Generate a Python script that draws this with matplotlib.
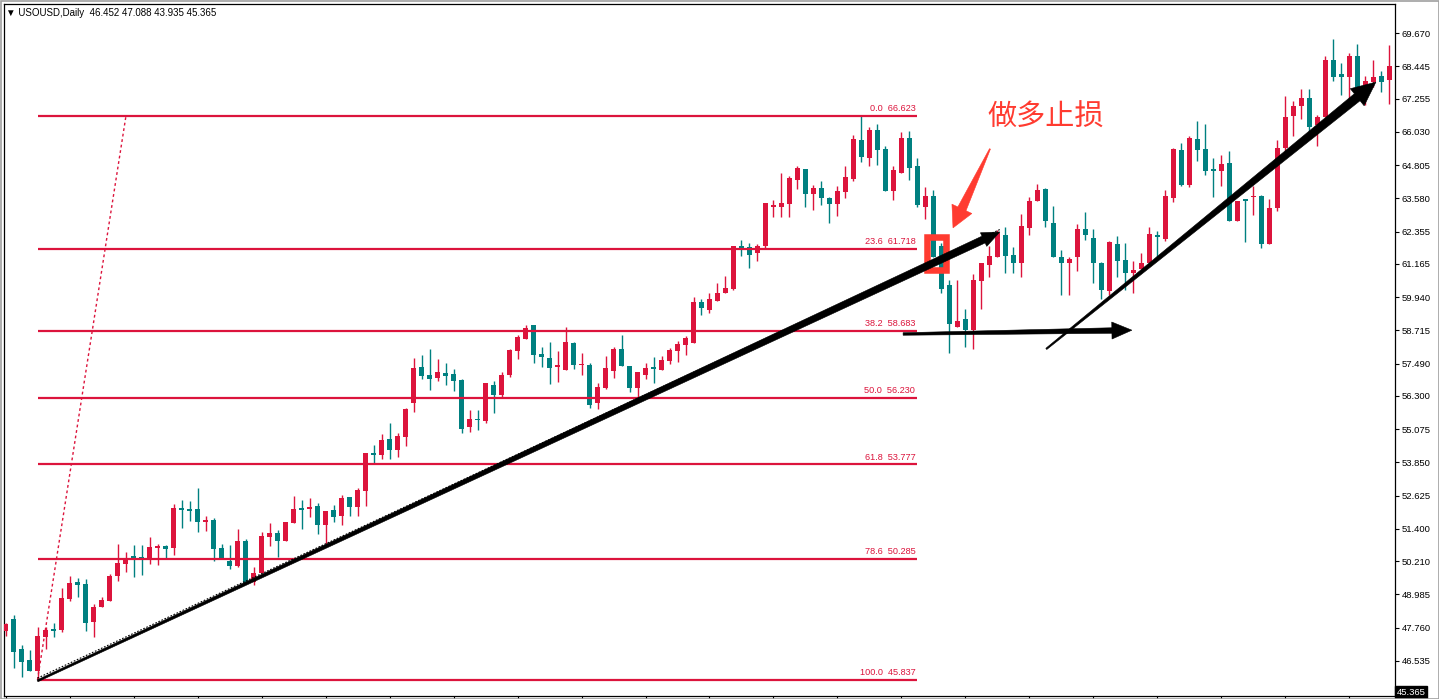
import numpy as np
import matplotlib
matplotlib.use("Agg")
import matplotlib.pyplot as plt
from matplotlib.patches import Polygon, Rectangle
import matplotlib.transforms as mtransforms

# daily candles (oldest -> newest)
opens = [47.65, 48.07, 46.96, 46.57, 46.17, 47.43, 47.71, 47.67, 48.80, 49.44,
         49.37, 47.98, 48.53, 48.75, 49.67, 50.11, 50.40, 50.35, 50.28, 50.69,
         50.77, 50.69, 52.17, 52.12, 52.12, 51.65, 51.73, 50.69, 50.23, 50.03,
         50.95, 49.44, 49.76, 51.11, 51.26, 50.96, 51.63, 52.17, 52.14, 52.24,
         51.55, 52.09, 51.89, 52.57, 52.19, 52.81, 54.21, 54.13, 54.72, 54.31,
         54.80, 56.05, 57.38, 57.07, 56.97, 57.15, 57.11, 56.88, 55.16, 55.46,
         55.39, 56.69, 56.34, 57.08, 57.96, 58.41, 58.92, 57.84, 57.70, 57.38,
         57.25, 58.26, 57.44, 57.44, 56.03, 56.59, 57.23, 58.02, 57.40, 56.60,
         57.08, 57.36, 57.25, 57.60, 57.96, 58.16, 58.26, 59.76, 59.46, 59.78,
         60.10, 60.25, 61.82, 61.77, 61.58, 61.82, 63.27, 63.27, 63.37, 64.25,
         64.65, 63.74, 63.96, 63.59, 63.37, 63.81, 64.28, 65.73, 65.06, 66.10,
         65.41, 63.86, 64.52, 65.80, 64.77, 63.27, 63.66, 61.82, 60.37, 58.85,
         59.12, 58.73, 60.54, 61.13, 61.41, 62.22, 61.48, 61.21, 62.49, 63.47,
         63.93, 62.66, 61.41, 61.18, 61.41, 62.45, 62.12, 61.21, 60.17, 61.90,
         61.30, 60.82, 60.96, 61.18, 62.22, 62.09, 63.59, 65.36, 64.06, 65.76,
         65.41, 64.67, 64.57, 64.89, 62.75, 63.54, 63.62, 63.66, 61.90, 63.22,
         65.43, 66.61, 66.98, 67.28, 66.27, 66.59, 68.68, 68.16, 68.06, 68.82,
         67.69, 67.86, 68.09, 67.94]
highs = [47.94, 48.23, 47.12, 46.94, 47.80, 47.80, 47.94, 49.22, 49.66, 49.58,
         49.56, 48.63, 48.90, 49.74, 50.84, 50.55, 50.79, 50.79, 51.09, 50.84,
         50.82, 52.32, 52.46, 52.42, 52.91, 51.87, 51.80, 50.84, 50.79, 51.38,
         51.03, 49.98, 51.28, 51.60, 51.36, 51.65, 52.61, 52.46, 52.54, 52.36,
         52.06, 52.28, 52.64, 52.57, 52.89, 54.21, 54.48, 54.90, 55.29, 54.92,
         55.85, 57.70, 57.82, 58.03, 57.66, 57.50, 57.28, 56.91, 55.78, 55.78,
         56.76, 56.86, 57.18, 58.04, 58.53, 58.90, 58.92, 58.09, 58.28, 57.95,
         58.85, 58.28, 57.87, 57.52, 56.79, 57.77, 58.09, 58.55, 57.40, 57.19,
         57.50, 57.72, 57.77, 58.06, 58.31, 58.51, 59.95, 59.88, 60.08, 60.45,
         60.72, 61.82, 62.04, 61.94, 61.90, 63.41, 63.52, 64.52, 64.40, 64.77,
         64.65, 64.08, 64.23, 63.64, 64.03, 64.77, 65.92, 66.62, 66.22, 66.32,
         65.51, 64.77, 66.02, 66.07, 65.06, 63.99, 63.89, 61.92, 60.57, 60.57,
         59.49, 60.79, 61.18, 61.82, 62.41, 62.51, 61.80, 63.00, 63.62, 64.11,
         63.96, 63.30, 61.67, 61.43, 62.63, 63.07, 62.44, 61.22, 62.01, 62.19,
         61.94, 61.28, 61.58, 62.53, 62.39, 63.89, 65.43, 65.62, 65.88, 66.44,
         66.32, 65.06, 65.19, 65.33, 63.49, 63.54, 64.03, 63.71, 63.54, 65.73,
         67.35, 67.18, 67.60, 67.60, 66.65, 68.82, 69.46, 68.58, 68.94, 69.26,
         68.09, 68.68, 68.28, 69.24]
lows = [47.45, 46.27, 45.95, 46.17, 45.84, 46.96, 47.40, 47.61, 48.75, 48.90,
        47.65, 47.43, 48.51, 48.75, 49.49, 49.81, 49.64, 49.71, 50.11, 50.06,
        50.33, 50.45, 51.43, 51.70, 51.28, 51.33, 50.20, 50.28, 49.91, 50.01,
        49.39, 49.32, 49.76, 50.77, 50.37, 50.94, 51.60, 51.41, 51.85, 51.21,
        50.84, 51.65, 51.53, 51.87, 51.87, 52.24, 53.79, 53.99, 53.96, 54.04,
        54.45, 55.72, 56.93, 56.52, 56.84, 56.69, 56.47, 54.94, 54.97, 55.04,
        55.31, 55.68, 56.27, 56.98, 57.67, 58.38, 57.50, 57.38, 56.73, 56.81,
        57.25, 57.30, 57.06, 55.85, 55.81, 56.56, 56.96, 57.40, 56.44, 56.17,
        56.93, 56.79, 57.25, 57.47, 57.55, 57.82, 58.26, 59.27, 59.36, 59.78,
        60.10, 60.20, 61.45, 61.01, 61.28, 61.72, 62.90, 62.90, 62.90, 63.91,
        63.27, 63.15, 63.34, 62.68, 62.93, 63.59, 64.21, 64.92, 64.77, 64.80,
        63.84, 63.52, 64.52, 64.25, 63.27, 62.83, 61.43, 60.08, 57.87, 58.85,
        58.11, 58.04, 59.51, 60.69, 61.41, 60.82, 60.82, 60.69, 62.22, 63.47,
        62.53, 61.41, 60.03, 60.01, 60.91, 62.03, 60.45, 59.86, 60.03, 60.68,
        60.20, 60.10, 60.96, 61.18, 61.43, 62.02, 63.44, 64.03, 64.01, 64.94,
        64.43, 63.64, 64.03, 62.75, 62.75, 61.97, 62.98, 61.75, 61.90, 63.12,
        65.33, 65.88, 66.49, 65.97, 65.51, 66.59, 67.91, 67.40, 67.20, 67.45,
        67.01, 67.69, 67.50, 67.05]
closes = [47.89, 46.87, 46.51, 46.17, 47.45, 47.67, 47.65, 48.84, 49.39, 49.34,
          47.92, 48.51, 48.78, 49.66, 50.13, 50.33, 50.28, 50.28, 50.72, 50.77,
          50.67, 52.17, 52.09, 52.05, 51.66, 51.73, 50.67, 50.28, 50.03, 50.95,
          49.39, 49.76, 51.14, 51.26, 50.96, 51.65, 52.13, 52.09, 52.21, 51.55,
          52.06, 51.83, 52.54, 52.19, 52.83, 54.18, 54.13, 54.67, 54.31, 54.82,
          55.81, 57.32, 57.04, 56.93, 57.18, 57.04, 56.86, 55.09, 55.46, 55.41,
          56.76, 56.34, 57.06, 57.99, 58.46, 58.80, 57.79, 57.72, 57.34, 57.40,
          58.28, 57.43, 57.49, 55.95, 56.62, 57.33, 58.04, 57.40, 56.60, 57.19,
          57.33, 57.28, 57.62, 57.99, 58.21, 58.43, 59.76, 59.54, 59.88, 60.10,
          60.27, 61.82, 61.75, 61.48, 61.82, 63.41, 63.32, 63.40, 64.33, 64.70,
          63.74, 63.96, 63.59, 63.37, 63.86, 64.35, 65.78, 65.11, 66.10, 65.36,
          63.86, 64.62, 65.80, 64.70, 63.34, 63.66, 61.43, 60.23, 58.95, 59.05,
          58.73, 60.57, 61.18, 61.45, 62.31, 61.45, 61.21, 62.56, 63.49, 63.89,
          62.73, 61.41, 61.18, 61.33, 62.45, 62.22, 61.18, 60.21, 61.97, 61.28,
          60.82, 60.94, 61.21, 62.26, 62.14, 63.66, 65.41, 64.06, 65.81, 65.36,
          64.60, 64.57, 64.84, 62.75, 63.49, 63.47, 63.66, 61.90, 63.22, 65.43,
          66.59, 66.98, 67.28, 66.20, 66.59, 68.68, 68.06, 68.04, 68.82, 67.62,
          67.89, 68.04, 67.86, 68.45]

fib_ratio = ["0.0", "23.6", "38.2", "50.0", "61.8", "78.6", "100.0"]
fib_price = [66.623, 61.718, 58.683, 56.230, 53.777, 50.285, 45.837]

tick_labels = ["69.670", "68.445", "67.255", "66.030", "64.805", "63.580",
               "62.355", "61.165", "59.940", "58.715", "57.490", "56.300",
               "55.075", "53.850", "52.625", "51.400", "50.210", "48.985",
               "47.760", "46.535"]
last_price = 45.365
header = "\u25BC USOUSD,Daily  46.452 47.088 43.935 45.365"
note = "做多止损"

UP = "#DC143C"
DOWN = "#008080"
MARK = "#FF3B30"

W, H = 1439, 699
fig = plt.figure(figsize=(W / 100, H / 100), dpi=100)
ax = fig.add_axes([4 / W, 3 / H, 1391 / W, 692 / H])
ax.set_xlim(-0.19, 173.69)
ax.set_ylim(45.241, 70.739)

x = np.arange(len(opens))
o = np.array(opens); c = np.array(closes)
up = c >= o
cols = np.where(up, UP, DOWN)

# wicks then bodies
ax.vlines(x, lows, highs, colors=cols, lw=1.0, zorder=2)
body_h = np.maximum(np.abs(c - o), 0.04)
ax.bar(x, body_h, bottom=np.minimum(o, c), width=0.62, color=cols,
       linewidth=0, zorder=3)

# fibonacci levels
fib_x0, fib_x1 = 4, 113.9
ax.hlines(fib_price, fib_x0, fib_x1, colors=UP, lw=1.6, zorder=4)
for r, p in zip(fib_ratio, fib_price):
    ax.annotate(f"{r}  {p:.3f}", (fib_x1, p), xytext=(-1, 2),
                textcoords="offset points", ha="right", va="bottom",
                fontsize=6.6, color=UP, family="Liberation Sans", zorder=5)
ax.plot([4, 15.06], [45.837, 66.623], color=UP, lw=1.0,
        ls=(0, (2, 2)), zorder=4)


def taper_arrow(p0, p1, w0, w1, head_len, head_w, color, z=6):
    a = ax.transData.transform(p0)
    b = ax.transData.transform(p1)
    d = b - a
    u = d / np.hypot(*d)
    n = np.array([-u[1], u[0]])
    base = b - u * head_len
    pts = [a + n * w0 / 2, base + n * w1 / 2, base + n * head_w / 2, b,
           base - n * head_w / 2, base - n * w1 / 2, a - n * w0 / 2]
    pts = ax.transData.inverted().transform(np.array(pts))
    ax.add_patch(Polygon(pts, closed=True, fc=color, ec=color, lw=0.4,
                         zorder=z))


# red box + callout (under the black arrows)
ax.add_patch(Rectangle((115.22, 60.947), 2.31, 1.197, fill=False, ec=MARK,
                       lw=4.7, joinstyle="miter", zorder=6))
taper_arrow((123.06, 65.40), (118.44, 62.49), 1.0, 9.0, 21, 22, MARK, z=6)
ax.text(122.7, 66.54, note, color=MARK, fontsize=21, ha="left", va="center",
        family=["Noto Sans CJK SC", "DejaVu Sans"], zorder=8)

# dotted trendline under the big arrow
ax.plot([4, 124.3], [45.90, 62.43], color="black", lw=0.8,
        ls=(0, (1.5, 1.5)), zorder=7)
taper_arrow((4, 45.80), (124.3, 62.34), 2.0, 7.5, 18, 15, "black", z=7)
taper_arrow((112.2, 58.58), (140.8, 58.72), 2.5, 5.5, 20, 17, "black", z=7)
taper_arrow((130.1, 58.03), (171.3, 67.86), 1.5, 9.0, 24, 22, "black", z=7)

# axes styling
for s in ax.spines.values():
    s.set_color("black")
    s.set_linewidth(0.9)
ax.yaxis.tick_right()
ax.set_yticks([float(t) for t in tick_labels])
ax.set_yticklabels(tick_labels)
ax.tick_params(axis="y", direction="out", length=3, width=0.8, pad=2,
               labelsize=6.8, labelfontfamily="Liberation Sans")
ax.set_xticks(np.arange(0, 174, 8))
ax.set_xticklabels([])
ax.tick_params(axis="x", direction="out", length=3, width=0.8)

trans = mtransforms.blended_transform_factory(ax.transAxes, ax.transData)
ax.text(1.0012, last_price, f"{last_price:.3f}", transform=trans, ha="left",
        va="center", fontsize=6.8, color="white", family="Liberation Sans",
        bbox=dict(fc="black", ec="black", pad=1.3), zorder=9, clip_on=False)

fig.text(6 / W, 1 - 13 / H, header, fontsize=7.0, va="center", ha="left",
         family=["Liberation Sans", "DejaVu Sans"])

# window frame
fig.add_artist(Rectangle((0.5 / W, 0.5 / H), 1 - 1 / W, 1 - 1 / H,
                         transform=fig.transFigure, fill=False, ec="#A0A0A0",
                         lw=1.2))

fig.savefig("out.png", dpi=100)
